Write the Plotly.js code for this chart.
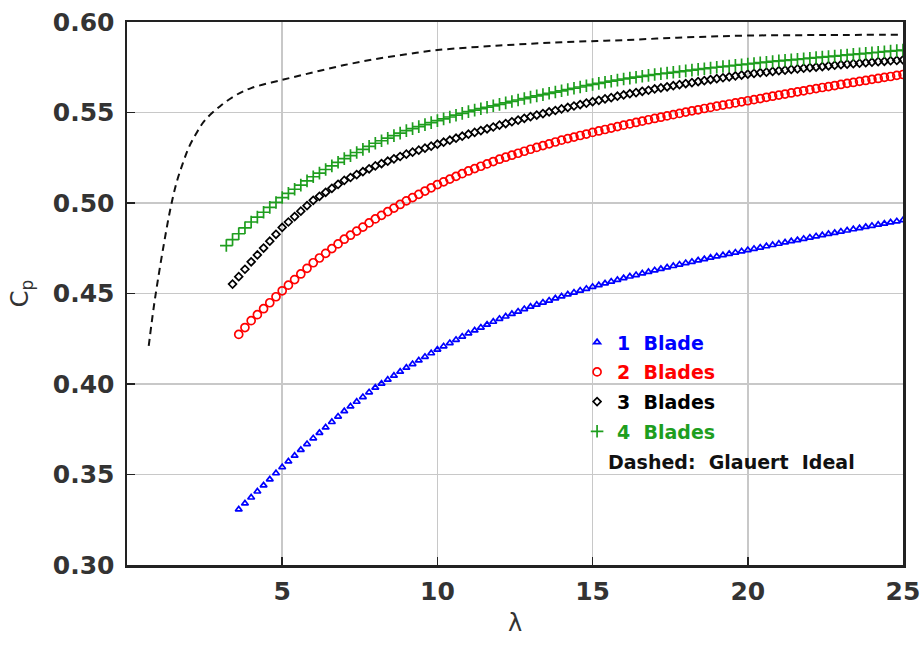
<!DOCTYPE html>
<html>
<head>
<meta charset="utf-8">
<script src="https://cdn.plot.ly/plotly-3.0.1.min.js"></script>
<style>html,body{margin:0;padding:0;background:#fff;}#chart{width:921px;height:646px;}</style>
</head>
<body>
<div id="chart"></div>
<script>
// Tip speed ratio samples shared by the blade series
const lam = [3.2,3.4,3.6,3.8,4.0,
 4.2,4.4,4.6,4.8,5.0, 5.2,5.4,5.6,5.8,6.0, 6.2,6.4,6.6,6.8,7.0, 7.2,7.4,7.6,7.8,8.0,
 8.2,8.4,8.6,8.8,9.0, 9.2,9.4,9.6,9.8,10.0, 10.2,10.4,10.6,10.8,11.0, 11.2,11.4,11.6,11.8,12.0,
 12.2,12.4,12.6,12.8,13.0, 13.2,13.4,13.6,13.8,14.0, 14.2,14.4,14.6,14.8,15.0, 15.2,15.4,15.6,15.8,16.0,
 16.2,16.4,16.6,16.8,17.0, 17.2,17.4,17.6,17.8,18.0, 18.2,18.4,18.6,18.8,19.0, 19.2,19.4,19.6,19.8,20.0,
 20.2,20.4,20.6,20.8,21.0, 21.2,21.4,21.6,21.8,22.0, 22.2,22.4,22.6,22.8,23.0, 23.2,23.4,23.6,23.8,24.0,
 24.2,24.4,24.6,24.8,25.0];

const cp1 = [null,null,0.3307,0.3340,0.3373,
 0.3406,0.3440,0.3473,0.3507,0.3540, 0.3572,0.3604,0.3636,0.3668,0.3700, 0.3730,0.3760,0.3790,0.3820,0.3850,
 0.3876,0.3902,0.3928,0.3954,0.3980, 0.4002,0.4024,0.4046,0.4068,0.4090, 0.4110,0.4130,0.4150,0.4170,0.4190,
 0.4208,0.4226,0.4244,0.4262,0.4280, 0.4296,0.4312,0.4328,0.4344,0.4360, 0.4373,0.4387,0.4400,0.4414,0.4427,
 0.4438,0.4450,0.4461,0.4473,0.4484, 0.4495,0.4505,0.4516,0.4526,0.4537, 0.4546,0.4556,0.4566,0.4575,0.4585,
 0.4594,0.4602,0.4611,0.4619,0.4628, 0.4636,0.4644,0.4652,0.4660,0.4668, 0.4675,0.4683,0.4690,0.4698,0.4705,
 0.4712,0.4719,0.4726,0.4733,0.4740, 0.4747,0.4754,0.4761,0.4768,0.4775, 0.4782,0.4789,0.4795,0.4802,0.4809,
 0.4816,0.4822,0.4829,0.4835,0.4842, 0.4848,0.4855,0.4861,0.4868,0.4874, 0.4880,0.4886,0.4893,0.4899,0.4905];

const cp2 = [null,null,0.4274,0.4312,0.4350,
 0.4383,0.4416,0.4449,0.4482,0.4515, 0.4546,0.4577,0.4608,0.4639,0.4670, 0.4696,0.4722,0.4748,0.4774,0.4800,
 0.4822,0.4845,0.4867,0.4890,0.4912, 0.4932,0.4952,0.4972,0.4992,0.5012, 0.5030,0.5048,0.5066,0.5084,0.5102,
 0.5117,0.5132,0.5147,0.5162,0.5177, 0.5190,0.5203,0.5216,0.5229,0.5242, 0.5253,0.5264,0.5275,0.5286,0.5297,
 0.5307,0.5317,0.5327,0.5337,0.5347, 0.5356,0.5364,0.5373,0.5381,0.5390, 0.5398,0.5406,0.5414,0.5422,0.5430,
 0.5437,0.5445,0.5452,0.5460,0.5467, 0.5474,0.5481,0.5488,0.5495,0.5502, 0.5509,0.5515,0.5522,0.5528,0.5535,
 0.5541,0.5547,0.5553,0.5559,0.5565, 0.5571,0.5577,0.5584,0.5590,0.5596, 0.5602,0.5608,0.5614,0.5620,0.5626,
 0.5632,0.5638,0.5643,0.5649,0.5655, 0.5661,0.5666,0.5672,0.5677,0.5683, 0.5688,0.5694,0.5699,0.5705,0.5710];

const cp3 = [null,0.4552,0.4593,0.4634,0.4675,
 0.4713,0.4751,0.4789,0.4827,0.4865, 0.4895,0.4925,0.4955,0.4985,0.5015, 0.5037,0.5059,0.5081,0.5103,0.5125,
 0.5141,0.5157,0.5173,0.5189,0.5205, 0.5218,0.5231,0.5244,0.5257,0.5270, 0.5281,0.5292,0.5303,0.5314,0.5325,
 0.5336,0.5347,0.5358,0.5369,0.5380, 0.5390,0.5400,0.5410,0.5420,0.5430, 0.5439,0.5449,0.5458,0.5468,0.5477,
 0.5486,0.5494,0.5503,0.5511,0.5520, 0.5528,0.5536,0.5544,0.5552,0.5560, 0.5567,0.5575,0.5582,0.5590,0.5597,
 0.5604,0.5610,0.5617,0.5623,0.5630, 0.5636,0.5642,0.5648,0.5654,0.5660, 0.5665,0.5671,0.5676,0.5682,0.5687,
 0.5692,0.5697,0.5702,0.5707,0.5712, 0.5716,0.5720,0.5723,0.5727,0.5731, 0.5734,0.5738,0.5741,0.5745,0.5748,
 0.5751,0.5754,0.5758,0.5761,0.5764, 0.5767,0.5770,0.5772,0.5775,0.5778, 0.5781,0.5783,0.5786,0.5788,0.5791];

const cp4 = [0.4765,0.4798,0.4830,0.4863,0.4895,
 0.4922,0.4949,0.4976,0.5003,0.5030, 0.5053,0.5076,0.5099,0.5122,0.5145, 0.5165,0.5185,0.5205,0.5225,0.5245,
 0.5262,0.5279,0.5296,0.5313,0.5330, 0.5344,0.5358,0.5372,0.5386,0.5400, 0.5411,0.5422,0.5433,0.5444,0.5455,
 0.5465,0.5475,0.5485,0.5495,0.5505, 0.5513,0.5521,0.5529,0.5537,0.5545, 0.5553,0.5561,0.5569,0.5577,0.5585,
 0.5592,0.5599,0.5606,0.5613,0.5620, 0.5627,0.5634,0.5641,0.5648,0.5655, 0.5661,0.5667,0.5673,0.5679,0.5685,
 0.5690,0.5695,0.5700,0.5705,0.5710, 0.5714,0.5718,0.5722,0.5726,0.5730, 0.5734,0.5738,0.5742,0.5746,0.5750,
 0.5754,0.5757,0.5761,0.5764,0.5768, 0.5771,0.5775,0.5778,0.5782,0.5785, 0.5788,0.5791,0.5794,0.5797,0.5800,
 0.5803,0.5806,0.5809,0.5812,0.5815, 0.5818,0.5821,0.5824,0.5827,0.5830, 0.5833,0.5836,0.5839,0.5842,0.5845];

// Glauert ideal (dashed)
const lamG = [0.7,0.85,1.0,1.2,1.4,1.6,1.8,2.0,2.25,2.5,3.0,3.5,4.0,5.0,6.0,7.0,8.0,9.0,10.0,12.0,14.0,16.0,18.0,20.0,22.5,25.0];
const cpG  = [0.421,0.441,0.458,0.4785,0.497,0.5115,0.522,0.531,0.539,0.5455,0.5535,0.5595,0.5635,0.568,0.5722,0.5762,0.5795,0.5822,0.5845,0.587,0.5888,0.590,0.5915,0.5925,0.5928,0.593];

const seriesNames = ['1\u00a0\u00a0Blade','2\u00a0\u00a0Blades','3\u00a0\u00a0Blades','4\u00a0\u00a0Blades'];
const seriesColors = ['#0000ff','#ff0000','#000000','#1e9e1e'];
const glauertLabel = 'Dashed:\u00a0\u00a0Glauert\u00a0\u00a0Ideal';
const xTicks = [5,10,15,20,25];
const yTicks = [0.30,0.35,0.40,0.45,0.50,0.55,0.60];

const FONT = 'DejaVu Sans, Liberation Sans, sans-serif';
const symbols = ['triangle-up-open','circle-open','diamond-open','cross-thin-open'];
const sizes = [6,8,6,9];
const ys = [cp1,cp2,cp3,cp4];

const traces = [{
  x: lamG, y: cpG, type:'scatter', mode:'lines', showlegend:false,
  line:{color:'#111', width:2, dash:'7px,5px', shape:'spline'}, hoverinfo:'skip'
}];
for (let i=0;i<4;i++){
  traces.push({
    x: lam, y: ys[i], type:'scatter', mode:'markers',
    name: '<span style="color:'+seriesColors[i]+'">'+seriesNames[i]+'</span>',
    legendgroup: 'g'+i,
    marker:{symbol:symbols[i], size:sizes[i], color:seriesColors[i], line:{color:seriesColors[i], width:1.7}}
  });
}

const axisCommon = {
  showline:true, linecolor:'#222', linewidth:2.5, mirror:true,
  showgrid:true, gridcolor:'#c8c8c8', gridwidth:1.5,
  ticks:'inside', ticklen:8, tickwidth:1.5, tickcolor:'#222',
  zeroline:false,
  tickfont:{family:FONT, size:25, color:'#333', weight:'bold'}
};

const layout = {
  width:921, height:646,
  margin:{l:127, r:18, t:22, b:81},
  paper_bgcolor:'#fff', plot_bgcolor:'#fff',
  font:{family:FONT},
  xaxis: Object.assign({}, axisCommon, {
    range:[0,25], tickmode:'array', tickvals:xTicks, ticktext:xTicks.map(String),
    ticklabelstandoff:2,
    title:{text:'λ', font:{family:FONT, size:24, color:'#333'}, standoff:10}
  }),
  yaxis: Object.assign({}, axisCommon, {
    range:[0.30,0.60], tickmode:'array', tickvals:yTicks, ticktext:yTicks.map(v=>v.toFixed(2)),
    ticklabelstandoff:5,
    title:{text:'C<sub>p</sub>', font:{family:FONT, size:24, color:'#333'}, standoff:18}
  }),
  showlegend:true,
  legend:{
    x:0.58, y:0.445, xanchor:'left', yanchor:'top',
    bgcolor:'rgba(0,0,0,0)', borderwidth:0,
    font:{family:FONT, size:19, weight:'bold'},
    traceorder:'grouped', tracegroupgap:2, itemwidth:30
  },
  annotations:[{
    xref:'paper', yref:'paper', x:0.617, y:0.19, xanchor:'left', yanchor:'middle',
    text: glauertLabel, showarrow:false,
    font:{family:FONT, size:19, color:'#111', weight:'bold'}
  }]
};

Plotly.newPlot('chart', traces, layout, {displayModeBar:false, staticPlot:true});
</script>
</body>
</html>
